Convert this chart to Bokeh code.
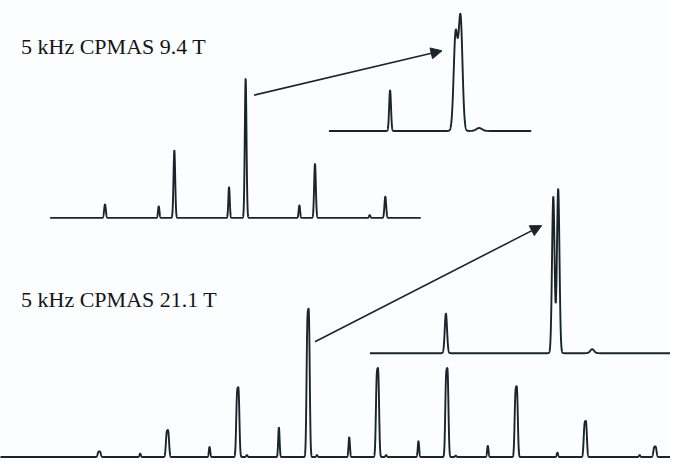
import numpy as np
from bokeh.plotting import figure
from bokeh.models import Range1d, Label, Arrow, NormalHead
from bokeh.embed import file_html
from bokeh.resources import INLINE

# ---------------- data (frequency offsets in kHz, intensities relative) ----------------
# 5 kHz CPMAS 9.4 T : full spectrum
top_main_khz = [-10.0, -5.07, 0.0, 4.93, 9.93]
top_main_int = [0.097, 0.486, 1.0, 0.389, 0.153]
top_minor_khz = [-6.18, -1.18, 3.82, 8.82]
top_minor_int = [0.083, 0.222, 0.090, 0.020]
top_span_khz = (-13.9, 12.45)

# 9.4 T expanded centre band
top_zoom_khz = [-1.19, -0.043, 0.043, 0.37]
top_zoom_int = [0.347, 0.82, 0.964, 0.025]
top_zoom_wid = [0.016, 0.034, 0.034, 0.05]
top_zoom_span = (-2.26, 1.28)

# 5 kHz CPMAS 21.1 T : full spectrum (main bands are narrow doublets)
bot_main_khz = [-15.0, -10.1, -5.05, 0.0, 4.98, 9.96, 14.94, 19.9, 24.9]
bot_main_int = [0.038, 0.182, 0.471, 1.0, 0.60, 0.60, 0.478, 0.244, 0.072]
bot_minor_khz = [-12.06, -7.08, -4.4, -2.10, 0.63, 2.95, 5.6, 7.92, 10.6, 12.9, 17.9, 23.8]
bot_minor_int = [0.024, 0.072, 0.014, 0.21, 0.014, 0.141, 0.014, 0.113, 0.010, 0.079, 0.031, 0.014]
bot_split_khz = 0.12
bot_span_khz = (-22.2, 26.1)

# 21.1 T expanded centre band
bot_zoom_khz = [-2.11, -0.047, 0.047, 0.70]
bot_zoom_int = [0.241, 0.953, 1.0, 0.024]
bot_zoom_wid = [0.022, 0.0244, 0.0244, 0.0375]
bot_zoom_span = (-3.57, 2.25)

labels = ["5 kHz CPMAS 9.4 T", "5 kHz CPMAS 21.1 T"]

# ---------------- layout (canvas of 686 x 474 units) ----------------
W, H = 686.0, 474.0
# name: (x of 0 kHz, units per kHz, baseline y, units per intensity)
panels = {
    "top":   (251.0, 14.4, 225.0, 144.0),
    "topz":  (468.5, 58.5, 135.0, 121.0),
    "bot":   (315.0, 14.26, 472.5, 145.5),
    "botz":  (568.5, 53.3, 365.0, 170.0),
}
INK = "#1b2428"
BG = "#fcfdff"

p = figure(width=670, height=458, output_backend="svg", toolbar_location=None,
           x_range=Range1d(0, W), y_range=Range1d(H, 0),
           x_axis_location=None, y_axis_location=None, min_border=0,
           background_fill_color=BG, border_fill_color=BG)
p.grid.visible = False
p.outline_line_color = None

for name, (cx, sx, by, sy) in panels.items():
    p.extra_x_ranges[name] = Range1d(-cx / sx, (W - cx) / sx)
    p.extra_y_ranges[name] = Range1d((by - H) / sy, by / sy)


def lines(grid, centres, heights, widths):
    y = np.zeros_like(grid)
    for c, h, w in zip(centres, heights, widths):
        y += h * np.exp(-0.5 * ((grid - c) / w) ** 2)
    return y


# top full spectrum
g = np.linspace(top_span_khz[0], top_span_khz[1], 6000)
yt = lines(g, top_main_khz + top_minor_khz, top_main_int + top_minor_int,
           [0.06] * len(top_main_khz) + [0.05] * len(top_minor_khz))
p.line(g, yt, line_color=INK, line_width=1.9, x_range_name="top", y_range_name="top")

# top expansion
g = np.linspace(top_zoom_span[0], top_zoom_span[1], 4000)
p.line(g, lines(g, top_zoom_khz, top_zoom_int, top_zoom_wid), line_color=INK,
       line_width=1.9, x_range_name="topz", y_range_name="topz")

# bottom full spectrum (doublets for main bands, scaled so the band maximum = intensity)
g = np.linspace(bot_span_khz[0], bot_span_khz[1], 12000)
sig = 0.06
norm = 1.0 + 0.95 * np.exp(-0.5 * (bot_split_khz / sig) ** 2)
cs, hs, ws = [], [], []
for c, h in zip(bot_main_khz, bot_main_int):
    cs += [c - bot_split_khz / 2, c + bot_split_khz / 2]
    hs += [0.95 * h / norm, h / norm]
    ws += [sig, sig]
cs += bot_minor_khz
hs += bot_minor_int
ws += [0.05] * len(bot_minor_khz)
p.line(g, lines(g, cs, hs, ws), line_color=INK, line_width=1.9,
       x_range_name="bot", y_range_name="bot")

# bottom expansion
g = np.linspace(bot_zoom_span[0], bot_zoom_span[1], 5000)
p.line(g, lines(g, bot_zoom_khz, bot_zoom_int, bot_zoom_wid), line_color=INK,
       line_width=1.9, x_range_name="botz", y_range_name="botz")

# arrows from centre band to its expansion (in the full-spectrum units)
arrows = {"top": (0.59, 0.882, 13.96, 1.201), "bot": (0.49, 0.82, 16.76, 1.646)}
for name, (x0, y0, x1, y1) in arrows.items():
    p.add_layout(Arrow(x_start=x0, y_start=y0, x_end=x1, y_end=y1,
                       x_range_name=name, y_range_name=name,
                       line_color=INK, line_width=1.6,
                       end=NormalHead(size=11, fill_color=INK, line_color=INK, line_width=1)))

# titles
for txt, (lx, ly) in zip(labels, [(21, 48), (21, 309)]):
    p.add_layout(Label(x=lx, y=ly, text=txt, text_font="Liberation Serif",
                       text_font_size="22px", text_color="#151515",
                       text_baseline="alphabetic"))

open("out.html", "w").write(file_html(p, INLINE))
